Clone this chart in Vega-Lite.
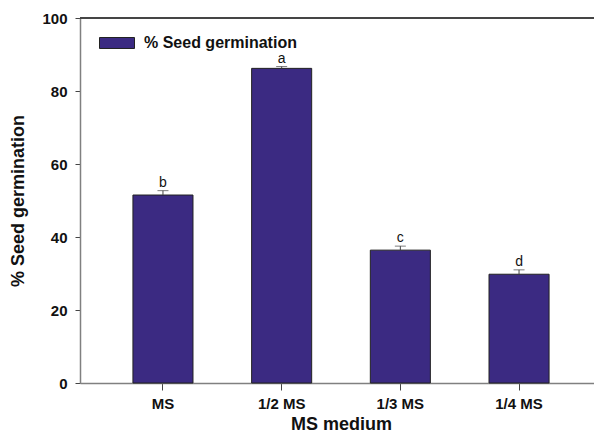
{
  "$schema": "https://vega.github.io/schema/vega-lite/v6.json",
  "width": 514,
  "height": 365,
  "autosize": {"type": "none"},
  "padding": {"left": 80, "top": 18, "right": 0, "bottom": 51},
  "background": "white",
  "config": {
    "view": {"stroke": null},
    "font": "Liberation Sans",
    "axis": {"grid": false}
  },
  "data": {
    "values": [
      {"medium": "MS", "germination": 51.5, "upper": 52.7, "group": "b"},
      {"medium": "1/2 MS", "germination": 86.2, "upper": 86.7, "group": "a"},
      {"medium": "1/3 MS", "germination": 36.4, "upper": 37.5, "group": "c"},
      {"medium": "1/4 MS", "germination": 29.8, "upper": 31.0, "group": "d"}
    ]
  },
  "encoding": {
    "x": {
      "field": "medium",
      "type": "nominal",
      "sort": null,
      "scale": {"range": [0, 522], "paddingInner": 0.494, "paddingOuter": 0.446},
      "axis": {
        "title": "MS medium",
        "titleFontSize": 18,
        "titleFontWeight": "bold",
        "titleColor": "#111",
        "titlePadding": 4,
        "labelAngle": 0,
        "labelFontSize": 15,
        "labelFontWeight": "bold",
        "labelColor": "#111",
        "labelPadding": 6,
        "domainColor": "#808080",
        "domainWidth": 1.5,
        "tickColor": "#444",
        "tickSize": 7
      }
    }
  },
  "layer": [
    {
      "mark": {"type": "bar", "stroke": "#222", "strokeWidth": 1},
      "encoding": {
        "y": {
          "field": "germination",
          "type": "quantitative",
          "scale": {"domain": [0, 100], "nice": false},
          "axis": {
            "title": "% Seed germination",
            "titleFontSize": 18,
            "titleFontWeight": "bold",
            "titleColor": "#111",
            "titlePadding": 14,
            "values": [0, 20, 40, 60, 80, 100],
            "labelFontSize": 15,
            "labelFontWeight": "bold",
            "labelColor": "#111",
            "labelPadding": 8,
            "domainColor": "#808080",
            "domainWidth": 1.5,
            "tickColor": "#444",
            "tickSize": 5
          }
        },
        "color": {
          "datum": "% Seed germination",
          "scale": {"range": ["#3b2a82"]},
          "legend": {
            "title": null,
            "orient": "none",
            "legendX": 19,
            "legendY": 7,
            "padding": 0,
            "symbolType": "M-1,-0.314H1V0.314H-1Z",
            "symbolSize": 1225,
            "symbolStrokeColor": "#222",
            "symbolStrokeWidth": 1,
            "symbolOpacity": 1,
            "labelFontSize": 16,
            "labelFontWeight": "bold",
            "labelColor": "#111",
            "labelOffset": 9
          }
        }
      }
    },
    {
      "mark": {"type": "rule", "color": "#444", "strokeWidth": 1},
      "encoding": {
        "y": {"field": "germination", "type": "quantitative"},
        "y2": {"field": "upper"}
      }
    },
    {
      "mark": {"type": "tick", "color": "#444", "size": 11, "thickness": 1},
      "encoding": {
        "y": {"field": "upper", "type": "quantitative"}
      }
    },
    {
      "mark": {"type": "text", "fontSize": 14, "color": "#111", "baseline": "bottom", "dy": -1},
      "encoding": {
        "y": {"field": "upper", "type": "quantitative"},
        "text": {"field": "group"}
      }
    },
    {
      "mark": {"type": "rule", "color": "#444", "strokeWidth": 1.5},
      "encoding": {
        "x": null,
        "y": {"datum": 100}
      }
    }
  ]
}
